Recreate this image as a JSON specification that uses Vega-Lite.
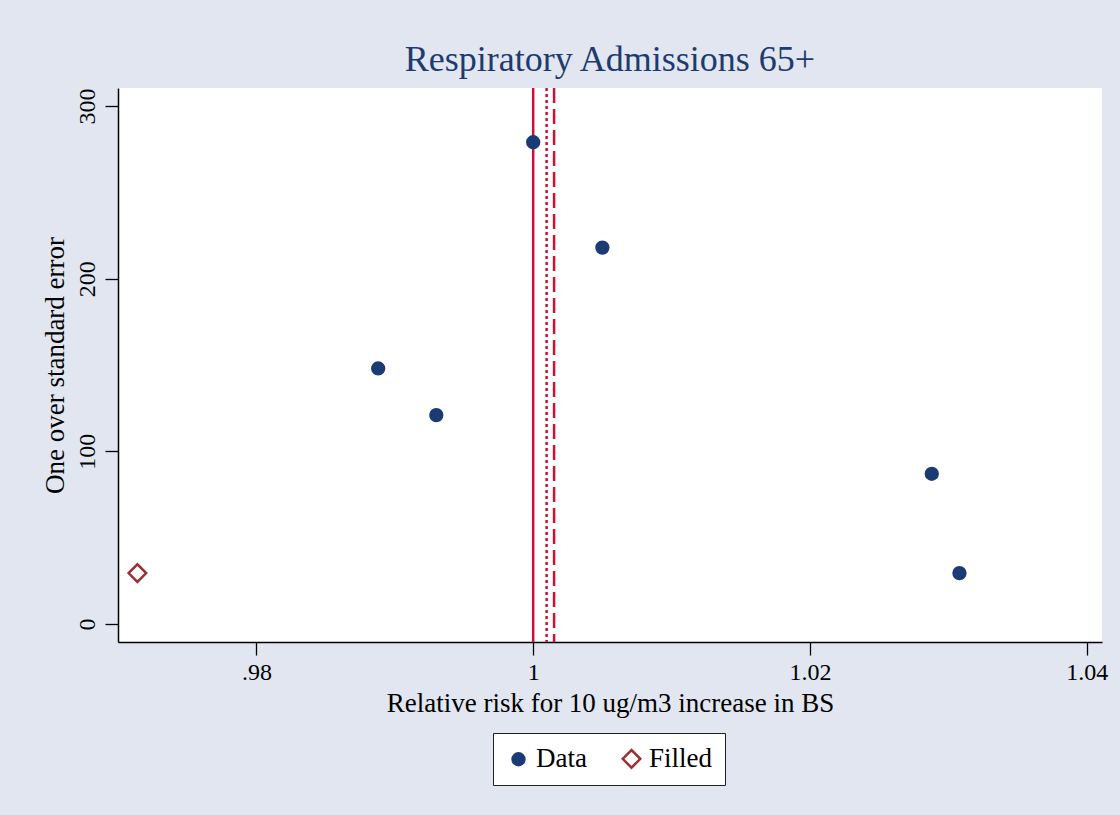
{
  "$schema": "https://vega.github.io/schema/vega-lite/v6.json",
  "width": 984,
  "height": 554,
  "autosize": {"type": "none"},
  "padding": {"left": 118, "top": 88, "right": 18, "bottom": 173},
  "background": "#E1E6F0",
  "config": {
    "view": {"fill": "white", "stroke": null},
    "font": "Liberation Serif",
    "axis": {
      "labelFont": "Liberation Serif",
      "titleFont": "Liberation Serif",
      "labelFontSize": 24,
      "titleFontSize": 27,
      "labelColor": "black",
      "titleColor": "black",
      "titleFontWeight": "normal",
      "domainColor": "black",
      "domainWidth": 1.5,
      "tickColor": "black",
      "tickWidth": 1.3,
      "tickSize": 13,
      "grid": false
    }
  },
  "title": {
    "text": "Respiratory Admissions 65+",
    "font": "Liberation Serif",
    "fontSize": 36,
    "fontWeight": "normal",
    "color": "#1E3A6E",
    "anchor": "middle",
    "offset": 8
  },
  "datasets": {
    "points": [
      {"rr": 1.0, "inv_se": 279, "series": "Data"},
      {"rr": 1.005, "inv_se": 218, "series": "Data"},
      {"rr": 0.9888, "inv_se": 148, "series": "Data"},
      {"rr": 0.993, "inv_se": 121, "series": "Data"},
      {"rr": 1.0288, "inv_se": 87, "series": "Data"},
      {"rr": 1.0308, "inv_se": 29.5, "series": "Data"},
      {"rr": 0.9714, "inv_se": 29.5, "series": "Filled"}
    ],
    "lines": [
      {"rr": 1.0, "line": "null"},
      {"rr": 1.00097, "line": "fixed"},
      {"rr": 1.00151, "line": "filled"}
    ]
  },
  "layer": [
    {
      "data": {"name": "lines"},
      "mark": {"type": "rule", "color": "#CC1136", "strokeWidth": 2.5},
      "encoding": {
        "x": {"field": "rr", "type": "quantitative", "scale": {"domain": [0.97, 1.0411], "nice": false, "zero": false}},
        "strokeDash": {
          "field": "line", "type": "nominal",
          "scale": {"domain": ["null", "fixed", "filled"], "range": [[1, 0], [3, 3], [15, 6]]},
          "legend": null
        }
      }
    },
    {
      "data": {"name": "points"},
      "mark": {"type": "point", "strokeWidth": 2.5, "opacity": 1},
      "encoding": {
        "x": {
          "field": "rr", "type": "quantitative",
          "scale": {"domain": [0.97, 1.0411], "nice": false, "zero": false},
          "axis": {
            "values": [0.98, 1, 1.02, 1.04],
            "labelExpr": "datum.value < 1 ? substring(format(datum.value, '.2f'), 1) : format(datum.value, '~g')",
            "title": "Relative risk for 10 ug/m3 increase in BS",
            "labelPadding": 5,
            "titlePadding": 6
          }
        },
        "y": {
          "field": "inv_se", "type": "quantitative",
          "scale": {"domain": [-10.4, 310.4], "nice": false, "zero": false},
          "axis": {
            "values": [0, 100, 200, 300],
            "labelAngle": -90,
            "labelAlign": "center",
            "labelBaseline": "bottom",
            "labelPadding": 6,
            "title": "One over standard error",
            "titlePadding": 6
          }
        },
        "shape": {
          "field": "series", "type": "nominal",
          "scale": {"domain": ["Data", "Filled"], "range": ["circle", "diamond"]},
          "legend": {"title": null, "orient": "none", "legendX": 375, "legendY": 645, "direction": "horizontal", "fillColor": "white", "strokeColor": "#222222", "padding": 12, "labelFont": "Liberation Serif", "labelFontSize": 27, "labelColor": "black", "columnPadding": 30, "symbolStrokeWidth": 2.5}
        },
        "fill": {
          "field": "series", "type": "nominal",
          "scale": {"domain": ["Data", "Filled"], "range": ["#1A3B73", "#FFFFFF"]},
          "legend": {"title": null, "orient": "none", "legendX": 375, "legendY": 645, "direction": "horizontal", "fillColor": "white", "strokeColor": "#222222", "padding": 12, "labelFont": "Liberation Serif", "labelFontSize": 27, "labelColor": "black", "columnPadding": 30, "symbolStrokeWidth": 2.5}
        },
        "stroke": {
          "field": "series", "type": "nominal",
          "scale": {"domain": ["Data", "Filled"], "range": ["#1A3B73", "#9A3036"]},
          "legend": {"title": null, "orient": "none", "legendX": 375, "legendY": 645, "direction": "horizontal", "fillColor": "white", "strokeColor": "#222222", "padding": 12, "labelFont": "Liberation Serif", "labelFontSize": 27, "labelColor": "black", "columnPadding": 30, "symbolStrokeWidth": 2.5}
        },
        "size": {
          "field": "series", "type": "nominal",
          "scale": {"domain": ["Data", "Filled"], "range": [140, 310]},
          "legend": {"title": null, "orient": "none", "legendX": 375, "legendY": 645, "direction": "horizontal", "fillColor": "white", "strokeColor": "#222222", "padding": 12, "labelFont": "Liberation Serif", "labelFontSize": 27, "labelColor": "black", "columnPadding": 30, "symbolStrokeWidth": 2.5}
        }
      }
    }
  ]
}
